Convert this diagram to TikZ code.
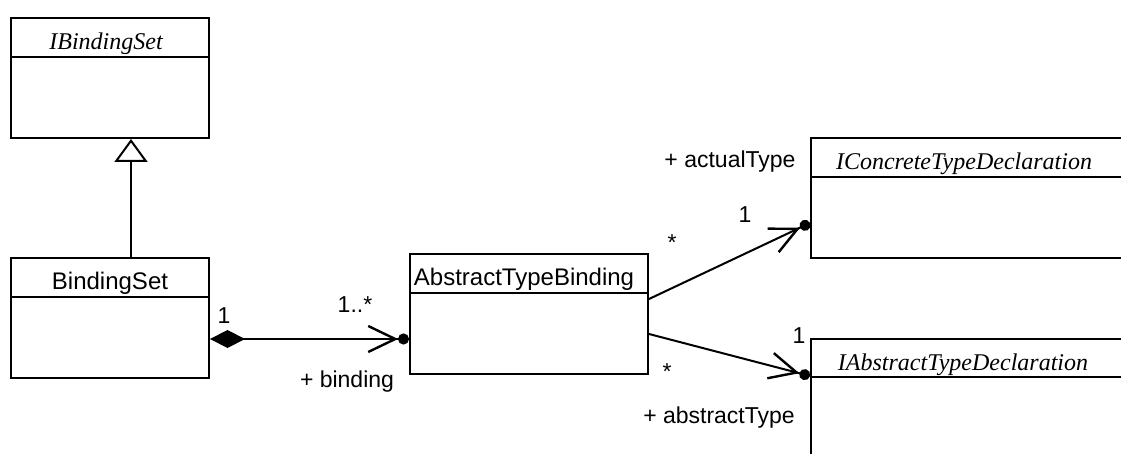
\documentclass[tikz,border=0pt]{standalone}
\usepackage{fontspec}
\setmainfont{Liberation Serif}
\setsansfont{Liberation Sans}
\usetikzlibrary{arrows.meta}

\tikzset{
  classbox/.style={draw, line width=2pt, minimum width=198pt, minimum height=120pt, anchor=north west, inner sep=0pt},
  cname/.style={font=\sffamily\fontsize{24}{28}\selectfont, anchor=base, inner sep=0pt},
  iname/.style={font=\itshape\fontsize{24}{28}\selectfont, anchor=base, inner sep=0pt},
  lbl/.style={font=\sffamily\fontsize{23}{27}\selectfont, anchor=base, inner sep=0pt},
  conn/.style={line width=2pt},
  navi/.style={conn, -{Straight Barb[length=27pt,width=26pt,line width=2.4pt]Circle[length=11pt,width=11pt]}}
}

\begin{document}
\begin{tikzpicture}[x=1pt,y=-1pt]
\clip (0,0) rectangle (1121,454);
\fill[white] (0,0) rectangle (1121,454);
% classes
\node[classbox] (ibs) at (10,17) {};
\node[classbox] (bs) at (10,257) {};
\node[classbox, minimum width=238pt] (atb) at (409,253) {};
\node[classbox, minimum width=330pt] (icd) at (810,137) {};
\node[classbox, minimum width=330pt] (iad) at (810,338) {};
\draw[conn] ([yshift=-40pt]ibs.north west) -- ([yshift=-40pt]ibs.north east);
\draw[conn] ([yshift=-40pt]bs.north west) -- ([yshift=-40pt]bs.north east);
\draw[conn] ([yshift=-40pt]atb.north west) -- ([yshift=-40pt]atb.north east);
\draw[conn] ([yshift=-40pt]icd.north west) -- ([yshift=-40pt]icd.north east);
\draw[conn] ([yshift=-39pt]iad.north west) -- ([yshift=-39pt]iad.north east);
\node[iname] (ibs-t) at (106,50) {IBindingSet};
\node[cname] (bs-t) at (110,290) {BindingSet};
\node[cname] (atb-t) at (524,286) {AbstractTypeBinding};
\node[iname] (icd-t) at (964,170) {IConcreteTypeDeclaration};
\node[iname] (iad-t) at (963,370) {IAbstractTypeDeclaration};
% relations
\draw[conn, -{Triangle[open, fill=white, length=23pt, width=33pt]}] ([xshift=21pt]bs.north) -- ([xshift=21pt]ibs.south);
\draw[conn, {Diamond[length=35pt, width=18pt]}-{Straight Barb[length=27pt,width=26pt,line width=2.4pt]Circle[length=11pt,width=11pt]}] ([yshift=-21pt]bs.east) -- ([yshift=-25pt]atb.west);
\draw[navi] ([yshift=15pt]atb.east) -- ([yshift=-25pt]icd.west);
\draw[navi] ([yshift=-20pt]atb.east) -- ([yshift=23pt]iad.west);
% multiplicities and roles
\node[lbl] (m-bs) at (224,323) {1};
\node[lbl] (m-atb) at (355,312) {1..*};
\node[lbl] (r-bind) at (347,387) {+ binding};
\node[lbl] (r-act) at (730,168) {+ actualType};
\node[lbl] (m-act) at (745,223) {1};
\node[lbl] (m-atb1) at (672,251) {*};
\node[lbl] (m-abs) at (799,343) {1};
\node[lbl] (m-atb2) at (667,379) {*};
\node[lbl] (r-abs) at (719,423) {+ abstractType};
\end{tikzpicture}
\end{document}
